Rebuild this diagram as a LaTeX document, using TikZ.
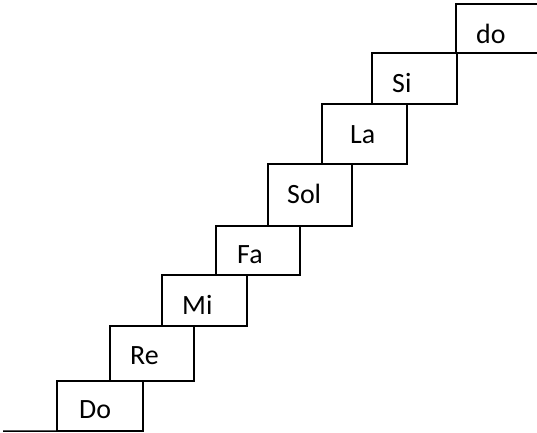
\documentclass[tikz,border=0pt]{standalone}
\usepackage{fontspec}
\setmainfont{Carlito}
\begin{document}
\begin{tikzpicture}[x=1bp,y=-1bp,
  stair/.style={draw=black, line width=1.5bp, rectangle, inner sep=0pt, outer sep=0pt, anchor=north west},
  lab/.style={anchor=base west, inner sep=0pt, font=\fontsize{28}{32}\selectfont}]
\clip (0,0) rectangle (537,432);
\node[stair, minimum width=86bp, minimum height=50bp] (Do) at (57,381) {};
\node[stair, minimum width=84bp, minimum height=55bp] (Re) at (110,326) {};
\node[stair, minimum width=85bp, minimum height=51bp] (Mi) at (162,275) {};
\node[stair, minimum width=84bp, minimum height=49bp] (Fa) at (216,226) {};
\node[stair, minimum width=84bp, minimum height=62bp] (Sol) at (268,164) {};
\node[stair, minimum width=85bp, minimum height=60bp] (La) at (322,104) {};
\node[stair, minimum width=85bp, minimum height=51bp] (Si) at (372,53) {};
\node[stair, minimum width=90bp, minimum height=49bp] (do) at (456,4) {};
\coordinate (start) at (3,431);
\draw[line width=1.5bp] (start) -- (Do.south west);
\node[lab] (tDo) at (79,418) {Do};
\node[lab] (tRe) at (130,364) {Re};
\node[lab] (tMi) at (182,314) {Mi};
\node[lab] (tFa) at (237,263) {Fa};
\node[lab] (tSol) at (287,203) {Sol};
\node[lab] (tLa) at (350,143) {La};
\node[lab] (tSi) at (392,92) {Si};
\node[lab] (tdo) at (476,43) {do};
\end{tikzpicture}
\end{document}
